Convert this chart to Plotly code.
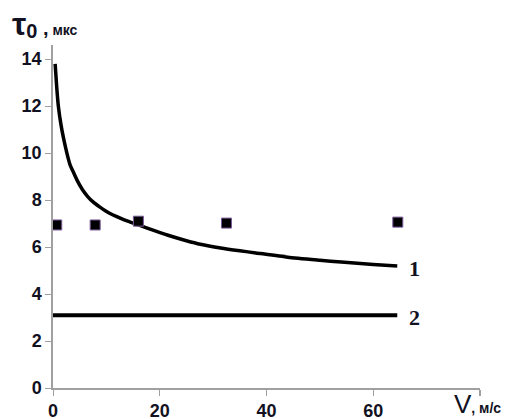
import plotly.graph_objects as go

# Curve 1
curve1_x = [0.4, 0.7, 1.0, 1.5, 2.0, 2.6, 3.2, 4.0, 4.5, 5.5, 6.5, 7.5, 8.8, 10.5, 12.6, 14.0, 16.0, 19.0, 22.0, 25.0, 27.6, 31.4, 35.0, 38.0, 44.0, 50.0, 54.0, 60.0, 64.5]
curve1_y = [13.8, 12.8, 12.0, 11.2, 10.6, 10.0, 9.5, 9.1, 8.85, 8.45, 8.15, 7.92, 7.7, 7.45, 7.23, 7.1, 6.94, 6.7, 6.47, 6.27, 6.12, 5.96, 5.84, 5.75, 5.57, 5.44, 5.36, 5.26, 5.19]

# Line 2
line2_x = [0.0, 64.5]
line2_y = [3.1, 3.1]

# Measured points
pts_x = [0.7, 7.9, 16.0, 32.5, 64.6]
pts_y = [6.94, 6.94, 7.1, 7.02, 7.06]

x_ticks = [0, 20, 40, 60]
x_minor = [80]
y_ticks = [0, 2, 4, 6, 8, 10, 12, 14]

fig = go.Figure()
fig.add_trace(go.Scatter(x=curve1_x, y=curve1_y, mode="lines",
                         line=dict(color="black", width=3.5, shape="spline", smoothing=0.6),
                         showlegend=False, hoverinfo="skip"))
fig.add_trace(go.Scatter(x=line2_x, y=line2_y, mode="lines",
                         line=dict(color="black", width=4),
                         showlegend=False, hoverinfo="skip"))
fig.add_trace(go.Scatter(x=pts_x, y=pts_y, mode="markers",
                         marker=dict(symbol="square", size=10, color="black",
                                     line=dict(color="#7a5a9a", width=1)),
                         showlegend=False, cliponaxis=False))

# page body has an 8px offset; compensate so plot lands where the reference has it
OFF = 8
L, R, T, B = 53 - OFF, 46, 45 - OFF, 31
W, H = 526 - OFF, 419 - OFF
pw, ph = W - L - R, H - T - B

def px(xp):
    return (xp - OFF - L) / pw

def py(yp):
    return (H - B - (yp - OFF)) / ph

tickfont = dict(family="Liberation Sans, Arial", size=18, color="#111122", weight="bold")

fig.update_layout(
    width=W, height=H,
    margin=dict(l=L, r=R, t=T, b=B),
    paper_bgcolor="white", plot_bgcolor="white",
    xaxis=dict(range=[0, 80], tickvals=x_ticks, automargin=False,
               showgrid=False, zeroline=False, showline=True, linecolor="#a0a0a0",
               linewidth=1.5, ticks="outside", ticklen=6, tickcolor="#a0a0a0",
               tickfont=tickfont,
               minor=dict(tickvals=x_minor, ticks="outside", ticklen=6, tickcolor="#a0a0a0",
                          tickwidth=1.5, showgrid=False)),
    yaxis=dict(range=[0, 14.6], tickvals=y_ticks, automargin=False,
               showgrid=False, zeroline=False, showline=True, linecolor="#a0a0a0",
               linewidth=1.5, ticks="outside", ticklen=6, tickcolor="#a0a0a0",
               tickfont=tickfont),
    font=dict(family="Liberation Sans, Arial", color="#111122"),
)

# Curve labels
fig.add_annotation(x=66.3, y=5.1, text="<b>1</b>", showarrow=False, xanchor="left",
                   font=dict(family="Liberation Serif, Times New Roman", size=22, color="#111122"))
fig.add_annotation(x=66.3, y=3.0, text="<b>2</b>", showarrow=False, xanchor="left",
                   font=dict(family="Liberation Serif, Times New Roman", size=22, color="#111122"))

# Axis titles
fig.add_annotation(xref="paper", yref="paper", x=px(10), y=py(24), xanchor="left", yanchor="middle",
                   text="<b><span style='font-size:32px'>τ</span><sub><span style='font-size:20px'>0</span></sub>"
                        "<span style='font-size:20px'> ,</span><span style='font-size:14px'> мкс</span></b>",
                   showarrow=False, font=dict(family="Liberation Sans, Arial", size=14, color="#111122"))
fig.add_annotation(xref="paper", yref="paper", x=px(452), y=py(404), xanchor="left", yanchor="middle",
                   text="<span style='font-size:26px'>V</span><b><span style='font-size:14px'>, м/с</span></b>",
                   showarrow=False, font=dict(family="Liberation Sans, Arial", size=14, color="#111122"))

fig.write_html("out.html")
